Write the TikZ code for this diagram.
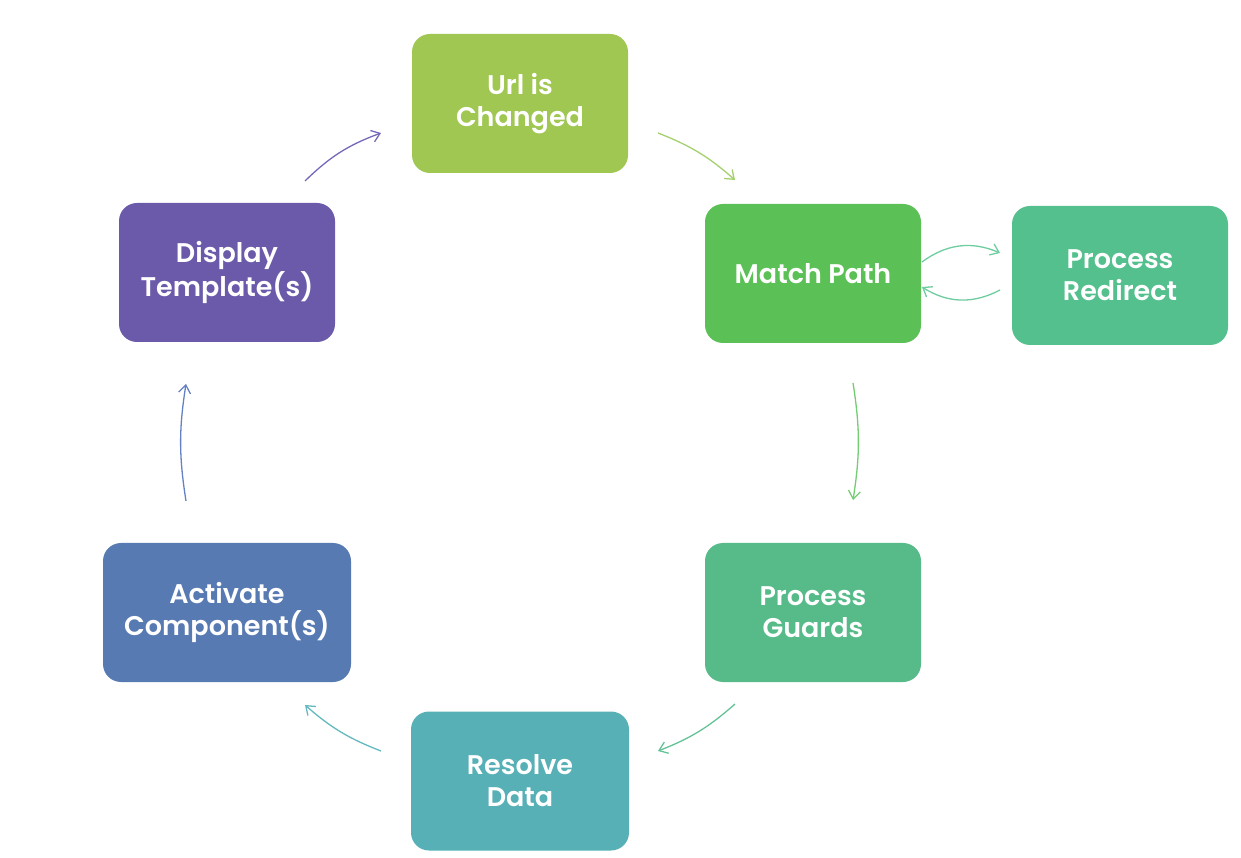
\documentclass[tikz,border=0pt]{standalone}
\usepackage{fontspec}
\setmainfont{Poppins}[BoldFont={Poppins SemiBold}]
\usetikzlibrary{arrows.meta}
\definecolor{cUrl}{RGB}{159,199,82}
\definecolor{cMatch}{RGB}{91,192,85}
\definecolor{cRedir}{RGB}{84,192,141}
\definecolor{cGuard}{RGB}{86,187,137}
\definecolor{cResolve}{RGB}{86,176,182}
\definecolor{cActivate}{RGB}{88,122,178}
\definecolor{cDisplay}{RGB}{107,90,170}
\definecolor{aUrl}{RGB}{165,208,110}
\definecolor{aRedir}{RGB}{110,205,160}
\definecolor{aMatch}{RGB}{115,205,115}
\definecolor{aGuard}{RGB}{100,195,150}
\definecolor{aResolve}{RGB}{100,185,190}
\definecolor{aActivate}{RGB}{100,130,195}
\definecolor{aDisplay}{RGB}{115,105,185}
\tikzset{
  stepbox/.style={rectangle, rounded corners=18pt, minimum width=216pt, minimum height=139pt,
    text=white, align=center, font=\fontsize{27}{32}\selectfont\bfseries, inner sep=0pt},
  flow/.style={line width=1.3pt, -{Straight Barb[length=8pt,width=12pt,line width=1.3pt]}, bend left=#1},
  flow/.default=12
}
\begin{document}
\begin{tikzpicture}[x=1pt,y=1pt]
\useasboundingbox (0,0) rectangle (1241,857);
\node[stepbox, fill=cUrl] (url) at (520,753.5) {Url is\\Changed};
\node[stepbox, fill=cMatch] (match) at (813,583.5) {Match Path};
\node[stepbox, fill=cRedir] (redir) at (1120,581.5) {Process\\Redirect};
\node[stepbox, fill=cGuard] (guard) at (813,244.5) {Process\\Guards};
\node[stepbox, fill=cResolve, minimum width=218pt] (resolve) at (520,76) {Resolve\\Data};
\node[stepbox, fill=cActivate, minimum width=248pt] (activate) at (227,244.5) {Activate\\Component(s)};
\node[stepbox, fill=cDisplay] (display) at (227,584.5) {Display\\Template(s)};

\coordinate (a1s) at (658,724); \coordinate (a1e) at (735,677);
\coordinate (a2s) at (922,595); \coordinate (a2e) at (1000,604);
\coordinate (a3s) at (1000,567); \coordinate (a3e) at (922,570);
\coordinate (a4s) at (853,474); \coordinate (a4e) at (853,357);
\coordinate (a5s) at (735,153); \coordinate (a5e) at (658,106);
\coordinate (a6s) at (381,106); \coordinate (a6e) at (305,152);
\coordinate (a7s) at (186,356); \coordinate (a7e) at (186,473);
\coordinate (a8s) at (305,676); \coordinate (a8e) at (381,724);

\draw[flow=10, draw=aUrl] (a1s) to (a1e);
\draw[flow=30, draw=aRedir] (a2s) to (a2e);
\draw[flow=30, draw=aRedir] (a3s) to (a3e);
\draw[flow=9, draw=aMatch] (a4s) to (a4e);
\draw[flow=10, draw=aGuard] (a5s) to (a5e);
\draw[flow=10, draw=aResolve] (a6s) to (a6e);
\draw[flow=9, draw=aActivate] (a7s) to (a7e);
\draw[flow=12, draw=aDisplay] (a8s) to (a8e);
\end{tikzpicture}
\end{document}
